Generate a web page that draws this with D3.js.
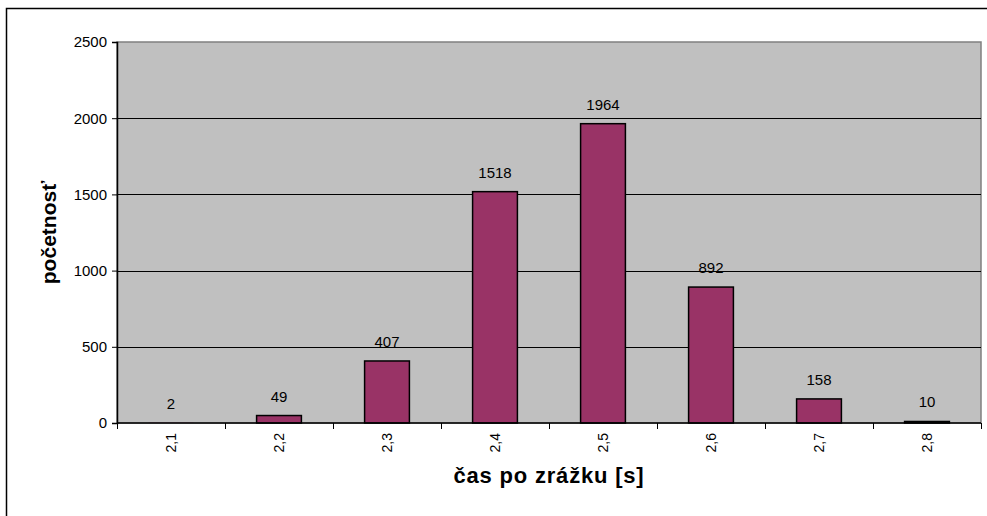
<!DOCTYPE html>
<html>
<head>
<meta charset="utf-8">
<script src="https://cdn.jsdelivr.net/npm/d3@7/dist/d3.min.js"></script>
<style>
  html, body { margin: 0; padding: 0; background: #fff; }
  svg { display: block; }
  text { font-family: "Liberation Sans", Arial, sans-serif; fill: #000; }
</style>
</head>
<body>
<svg id="chart" width="987" height="516"></svg>
<script>
// Histogram of time after impact
const categories = ["2,1", "2,2", "2,3", "2,4", "2,5", "2,6", "2,7", "2,8"];
const counts = [2, 49, 407, 1518, 1964, 892, 158, 10];
const yTicks = [0, 500, 1000, 1500, 2000, 2500];
const xTitle = "čas po zrážku [s]";
const yTitle = "početnosť";

const svg = d3.select("#chart");
const W = 987, H = 516;
const plot = { left: 117, right: 981, top: 42, bottom: 423 };

// outer chart frame
svg.append("rect")
  .attr("x", 6.5).attr("y", 8.5)
  .attr("width", W + 10).attr("height", H + 10)
  .attr("fill", "#fff").attr("stroke", "#000").attr("stroke-width", 1.5);

const x = d3.scaleBand().domain(categories).range([plot.left, plot.right]).paddingInner(0).paddingOuter(0);
const y = d3.scaleLinear().domain([0, 2500]).range([plot.bottom, plot.top]);

// plot background
svg.append("rect")
  .attr("x", plot.left).attr("y", plot.top)
  .attr("width", plot.right - plot.left).attr("height", plot.bottom - plot.top)
  .attr("fill", "#C0C0C0").attr("stroke", "#808080").attr("stroke-width", 1.5);

// horizontal gridlines
svg.append("g").selectAll("line")
  .data(yTicks.filter(v => v > 0 && v < 2500))
  .join("line")
  .attr("x1", plot.left).attr("x2", plot.right)
  .attr("y1", d => Math.round(y(d)) + 0.5).attr("y2", d => Math.round(y(d)) + 0.5)
  .attr("stroke", "#000").attr("stroke-width", 1);

// bars (outline omitted when the bar is thinner than a pixel)
const barW = x.bandwidth() * 0.415;
const rows = categories.map((c, i) => ({ c, v: counts[i] }));
svg.append("g").selectAll("rect")
  .data(rows)
  .join("rect")
  .attr("x", d => x(d.c) + (x.bandwidth() - barW) / 2)
  .attr("y", d => y(d.v))
  .attr("width", barW)
  .attr("height", d => y(0) - y(d.v))
  .attr("fill", "#993366")
  .attr("stroke", d => (y(0) - y(d.v)) < 1 ? "none" : "#000")
  .attr("stroke-width", 1.5);

// value labels
svg.append("g").selectAll("text")
  .data(rows)
  .join("text")
  .attr("x", d => x(d.c) + x.bandwidth() / 2)
  .attr("y", d => y(d.v) - 14)
  .attr("text-anchor", "middle")
  .attr("font-size", 15)
  .text(d => d.v);

// y axis
const yAxis = svg.append("g").attr("transform", `translate(${plot.left},0)`)
  .call(d3.axisLeft(y).tickValues(yTicks).tickSize(5).tickPadding(5).tickFormat(d3.format("d")));
yAxis.select(".domain").attr("stroke", "#000").attr("stroke-width", 1.5);
yAxis.selectAll(".tick line").attr("stroke", "#000");
yAxis.selectAll(".tick text").attr("font-size", 15).attr("font-family", "Liberation Sans, Arial, sans-serif").attr("fill", "#000");

// x axis: ticks at category boundaries
const xAxis = svg.append("g").attr("transform", `translate(0,${plot.bottom})`);
xAxis.append("line")
  .attr("x1", plot.left).attr("x2", plot.right)
  .attr("y1", 0).attr("y2", 0)
  .attr("stroke", "#000").attr("stroke-width", 1.5);
const bounds = categories.map(c => x(c)).concat([x(categories[categories.length - 1]) + x.bandwidth()]);
xAxis.selectAll("line.tk").data(bounds).join("line")
  .attr("class", "tk")
  .attr("x1", d => Math.round(d) + 0.5).attr("x2", d => Math.round(d) + 0.5)
  .attr("y1", 0).attr("y2", 6)
  .attr("stroke", "#000");
xAxis.selectAll("text").data(categories).join("text")
  .attr("transform", d => `translate(${x(d) + x.bandwidth() / 2 + 5},10) rotate(-90)`)
  .attr("text-anchor", "end")
  .attr("font-size", 14)
  .text(d => d);

// axis titles
svg.append("text")
  .attr("x", (plot.left + plot.right) / 2)
  .attr("y", 483)
  .attr("text-anchor", "middle")
  .attr("font-size", 22).attr("font-weight", "bold")
  .attr("letter-spacing", 0.8)
  .text(xTitle);

svg.append("text")
  .attr("transform", `translate(56,${(plot.top + plot.bottom) / 2}) rotate(-90)`)
  .attr("text-anchor", "middle")
  .attr("font-size", 21).attr("font-weight", "bold")
  .text(yTitle);
</script>
</body>
</html>
